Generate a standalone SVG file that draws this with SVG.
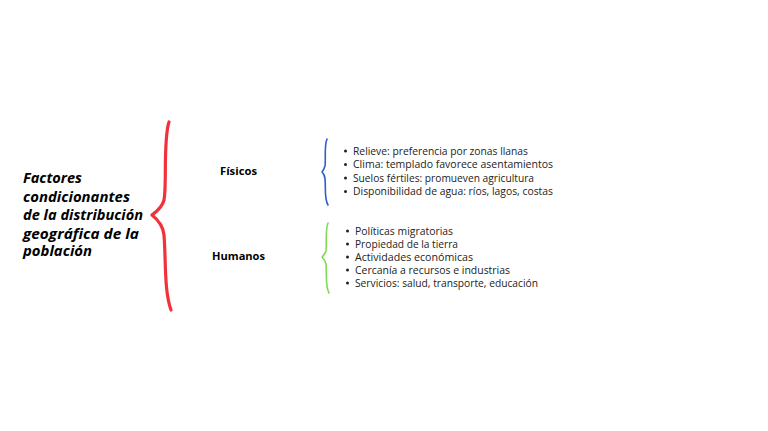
<svg xmlns="http://www.w3.org/2000/svg" width="768" height="431" viewBox="0 0 768 431">
<style>
.title{font-family:"Open Sans","Liberation Sans",sans-serif;font-weight:700;font-style:italic;font-size:13.6px;fill:#000}
.cat{font-family:"Open Sans","Liberation Sans",sans-serif;font-weight:700;font-size:11px;fill:#000}
.item{font-family:"Open Sans","Liberation Sans",sans-serif;font-size:10.2px;fill:#222}
.brace{fill:none;stroke-linecap:round;stroke-linejoin:round}
</style>
<rect width="768" height="431" fill="#ffffff"/>
<g id="title">
<text class="title" x="23" y="183" textLength="59" lengthAdjust="spacingAndGlyphs">Factores</text>
<text class="title" x="23" y="201.5" textLength="107" lengthAdjust="spacingAndGlyphs">condicionantes</text>
<text class="title" x="23" y="220" textLength="120" lengthAdjust="spacingAndGlyphs">de la distribución</text>
<text class="title" x="23" y="238.5" textLength="116" lengthAdjust="spacingAndGlyphs">geográfica de la</text>
<text class="title" x="23" y="256" textLength="69" lengthAdjust="spacingAndGlyphs">población</text>
</g>
<g id="connectors">
<path class="brace" stroke="#f2313b" stroke-width="3.2" d="M169,122 C163,140 167,185 164,200 C162,208 156,212 152,215 C157,219 163,225 164,235 C166,260 164,290 171,310"/>
<path class="brace" stroke="#2c5fc9" stroke-width="1.6" d="M327,139 C324,146 326,160 325,166 C324,169 323,171 322,172 C323,173 325,175 325,179 C326,188 324,198 328,205"/>
<path class="brace" stroke="#7ed957" stroke-width="1.6" d="M328,223 C325,230 327,245 326,251 C325,254 323,256 322,257 C323,258 325,260 326,264 C327,275 325,286 329,293"/>
</g>
<g id="fisicos">
<text class="cat" x="238.5" y="175" text-anchor="middle" textLength="37" lengthAdjust="spacingAndGlyphs">Físicos</text>
</g>
<g id="humanos">
<text class="cat" x="238.5" y="260" text-anchor="middle" textLength="53" lengthAdjust="spacingAndGlyphs">Humanos</text>
</g>
<g id="fisicos-items">
<circle cx="345.5" cy="151" r="1.5" fill="#222"/>
<circle cx="345.5" cy="164.5" r="1.5" fill="#222"/>
<circle cx="345.5" cy="178" r="1.5" fill="#222"/>
<circle cx="345.5" cy="191.5" r="1.5" fill="#222"/>
<text class="item" x="353" y="154.5" textLength="175" lengthAdjust="spacingAndGlyphs">Relieve: preferencia por zonas llanas</text>
<text class="item" x="353" y="168" textLength="200" lengthAdjust="spacingAndGlyphs">Clima: templado favorece asentamientos</text>
<text class="item" x="353" y="181.5" textLength="181" lengthAdjust="spacingAndGlyphs">Suelos fértiles: promueven agricultura</text>
<text class="item" x="353" y="195" textLength="200" lengthAdjust="spacingAndGlyphs">Disponibilidad de agua: ríos, lagos, costas</text>
</g>
<g id="humanos-items">
<circle cx="347.5" cy="231" r="1.5" fill="#222"/>
<circle cx="347.5" cy="244" r="1.5" fill="#222"/>
<circle cx="347.5" cy="257" r="1.5" fill="#222"/>
<circle cx="347.5" cy="270" r="1.5" fill="#222"/>
<circle cx="347.5" cy="283" r="1.5" fill="#222"/>
<text class="item" x="355" y="234.5" textLength="98" lengthAdjust="spacingAndGlyphs">Políticas migratorias</text>
<text class="item" x="355" y="247.5" textLength="103" lengthAdjust="spacingAndGlyphs">Propiedad de la tierra</text>
<text class="item" x="355" y="260.5" textLength="118" lengthAdjust="spacingAndGlyphs">Actividades económicas</text>
<text class="item" x="355" y="273.5" textLength="155" lengthAdjust="spacingAndGlyphs">Cercanía a recursos e industrias</text>
<text class="item" x="355" y="286.5" textLength="183" lengthAdjust="spacingAndGlyphs">Servicios: salud, transporte, educación</text>
</g>
</svg>
